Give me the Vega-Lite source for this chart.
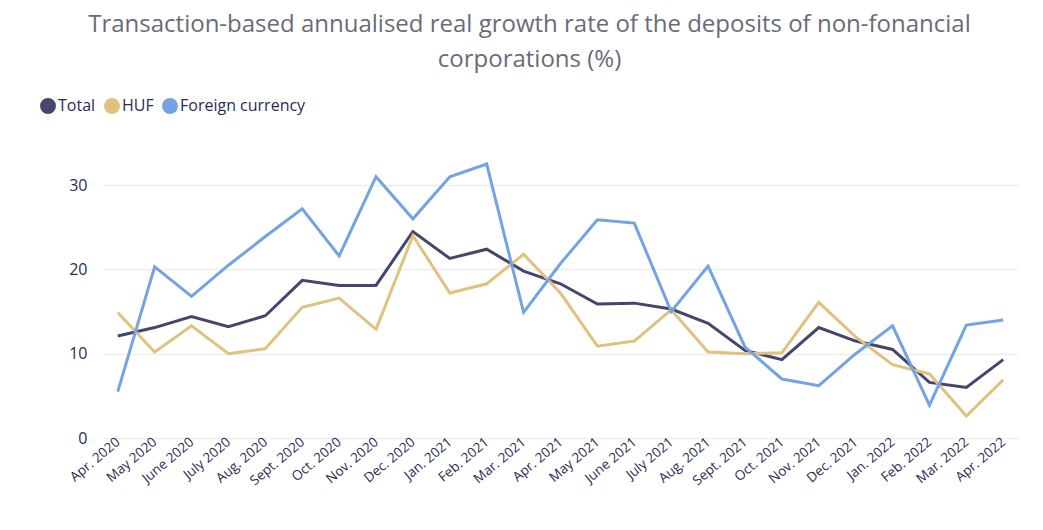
{
  "$schema": "https://vega.github.io/schema/vega-lite/v6.json",
  "autosize": {"type": "none"},
  "width": 915,
  "height": 295,
  "padding": {"left": 103, "top": 143, "right": 25, "bottom": 92},
  "background": "white",
  "title": {
    "text": ["Transaction-based annualised real growth rate of the deposits of non-fonancial", "corporations (%)"],
    "font": "Open Sans",
    "fontSize": 24,
    "fontWeight": "normal",
    "color": "#6b6b78",
    "lineHeight": 35,
    "anchor": "middle",
    "frame": "group",
    "dx": -31,
    "offset": 26
  },
  "config": {
    "view": {"stroke": null},
    "font": "Open Sans"
  },
  "data": {
    "values": [
      {"month": "Apr. 2020", "Total": 12.1, "HUF": 14.9, "Foreign currency": 5.5},
      {"month": "May 2020", "Total": 13.1, "HUF": 10.2, "Foreign currency": 20.3},
      {"month": "June 2020", "Total": 14.4, "HUF": 13.3, "Foreign currency": 16.8},
      {"month": "July 2020", "Total": 13.2, "HUF": 10.0, "Foreign currency": 20.5},
      {"month": "Aug. 2020", "Total": 14.5, "HUF": 10.6, "Foreign currency": 23.9},
      {"month": "Sept. 2020", "Total": 18.7, "HUF": 15.5, "Foreign currency": 27.2},
      {"month": "Oct. 2020", "Total": 18.1, "HUF": 16.6, "Foreign currency": 21.6},
      {"month": "Nov. 2020", "Total": 18.1, "HUF": 12.9, "Foreign currency": 31.0},
      {"month": "Dec. 2020", "Total": 24.5, "HUF": 24.0, "Foreign currency": 26.0},
      {"month": "Jan. 2021", "Total": 21.3, "HUF": 17.2, "Foreign currency": 31.0},
      {"month": "Feb. 2021", "Total": 22.4, "HUF": 18.3, "Foreign currency": 32.5},
      {"month": "Mar. 2021", "Total": 19.8, "HUF": 21.8, "Foreign currency": 14.9},
      {"month": "Apr. 2021", "Total": 18.3, "HUF": 17.2, "Foreign currency": 20.7},
      {"month": "May 2021", "Total": 15.9, "HUF": 10.9, "Foreign currency": 25.9},
      {"month": "June 2021", "Total": 16.0, "HUF": 11.5, "Foreign currency": 25.5},
      {"month": "July 2021", "Total": 15.3, "HUF": 15.2, "Foreign currency": 15.0},
      {"month": "Aug. 2021", "Total": 13.6, "HUF": 10.2, "Foreign currency": 20.4},
      {"month": "Sept. 2021", "Total": 10.4, "HUF": 10.0, "Foreign currency": 10.8},
      {"month": "Oct. 2021", "Total": 9.3, "HUF": 10.1, "Foreign currency": 7.0},
      {"month": "Nov. 2021", "Total": 13.1, "HUF": 16.1, "Foreign currency": 6.2},
      {"month": "Dec. 2021", "Total": 11.5, "HUF": 12.0, "Foreign currency": 10.0},
      {"month": "Jan. 2022", "Total": 10.5, "HUF": 8.7, "Foreign currency": 13.3},
      {"month": "Feb. 2022", "Total": 6.6, "HUF": 7.6, "Foreign currency": 3.9},
      {"month": "Mar. 2022", "Total": 6.0, "HUF": 2.6, "Foreign currency": 13.4},
      {"month": "Apr. 2022", "Total": 9.3, "HUF": 6.9, "Foreign currency": 14.0}
    ]
  },
  "transform": [
    {"fold": ["Total", "HUF", "Foreign currency"], "as": ["series", "value"]}
  ],
  "mark": {"type": "line", "strokeWidth": 3, "strokeJoin": "miter", "strokeCap": "butt"},
  "encoding": {
    "x": {
      "field": "month",
      "type": "ordinal",
      "sort": null,
      "scale": {"type": "point", "padding": 0.4},
      "axis": {
        "title": null,
        "labelAngle": -40,
        "labelAlign": "right",
        "labelBaseline": "middle",
        "labelFontSize": 13.5,
        "labelColor": "#2b2b55",
        "labelPadding": 2,
        "ticks": false,
        "domain": false,
        "grid": false,
        "labelOverlap": false
      }
    },
    "y": {
      "field": "value",
      "type": "quantitative",
      "scale": {"domain": [0, 35], "nice": false},
      "axis": {
        "title": null,
        "values": [0, 10, 20, 30],
        "labelFontSize": 16,
        "labelColor": "#2b2b55",
        "labelPadding": 16,
        "ticks": false,
        "domain": false,
        "gridColor": "#eeeeee",
        "gridWidth": 1.5
      }
    },
    "color": {
      "field": "series",
      "type": "nominal",
      "sort": ["Total", "HUF", "Foreign currency"],
      "scale": {"domain": ["Total", "HUF", "Foreign currency"], "range": ["#45456e", "#e0c27f", "#73a3e3"]},
      "legend": {
        "title": null,
        "orient": "none",
        "legendX": -63,
        "legendY": -45,
        "direction": "horizontal",
        "symbolType": "circle",
        "symbolSize": 254,
        "symbolStrokeWidth": 0,
        "symbolOpacity": 1,
        "labelFontSize": 16,
        "labelColor": "#2b2b55",
        "labelOffset": 2,
        "columnPadding": 8,
        "encode": {
          "symbols": {"update": {"fill": {"scale": "color", "field": "value"}}}
        }
      }
    }
  }
}
